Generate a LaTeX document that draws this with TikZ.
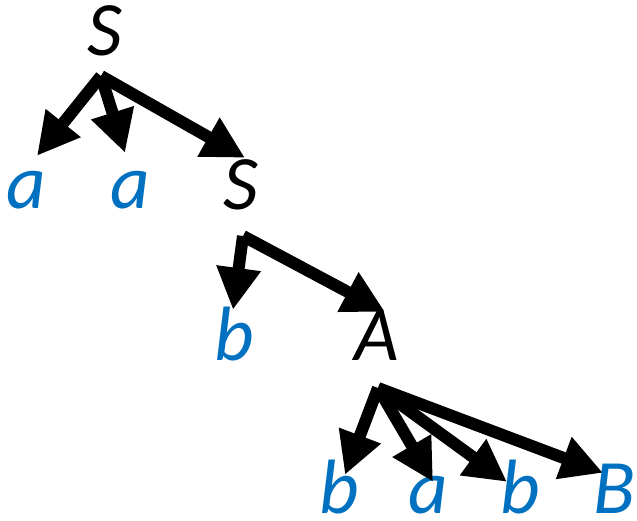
\documentclass[tikz,border=0pt]{standalone}
\usepackage{fontspec}
\setmainfont{Carlito}
\usetikzlibrary{arrows.meta}

\definecolor{termblue}{RGB}{0,112,192}

\tikzset{
	sym/.style={inner sep=0pt, anchor=base, text height=48pt, font=\fontsize{77}{80}\selectfont\itshape},
	term/.style={sym, text=termblue},
	nonterm/.style={sym, text=black},
	derive/.style={line width=12pt, -{Triangle[length=42pt,width=42pt]}},
}

\begin{document}
\begin{tikzpicture}[x=1pt, y=-1pt]
\useasboundingbox (0,0) rectangle (637,520);

%% Ebene 1
\node[nonterm] (S1) at (105,55) {S};
\coordinate (fS1) at (101,76);

%% Ebene 2
\node[term] (a1) at (26,208) {a};
\node[term] (a2) at (130,208) {a};
\node[nonterm] (S2) at (241,209) {S};
\coordinate (fS2) at (243,236);

%% Ebene 3
\node[term] (b1) at (234,360) {b};
\node[nonterm] (A) at (377,360) {A};
\coordinate (fA) at (378,388);

%% Ebene 4
\node[term] (b2) at (339,513) {b};
\node[term] (a3) at (428,513) {a};
\node[term] (b3) at (520,513) {b};
\node[term] (B) at (614,513) {B};
%%%%%%%%%%%%%%%%

%% Ableitungen
\draw[derive] (fS1) -- ([shift={(11pt,4pt)}]a1.north);
\draw[derive] (fS1) -- ([shift={(-5pt,7pt)}]a2.north);
\draw[derive] (fS1) -- ([shift={(4pt,3pt)}]S2.north);

\draw[derive] (fS2) -- ([shift={(-1pt,2pt)}]b1.north);
\draw[derive] (fS2) -- ([shift={(8pt,0pt)}]A.north);

\draw[derive] (fA) -- ([shift={(6pt,-10pt)}]b2.north);
\draw[derive] (fA) -- ([shift={(5pt,-17pt)}]a3.north);
\draw[derive] (fA) -- ([shift={(-13pt,-17pt)}]b3.north);
\draw[derive] (fA) -- ([shift={(-11pt,-8pt)}]B.north);

\end{tikzpicture}
\end{document}
